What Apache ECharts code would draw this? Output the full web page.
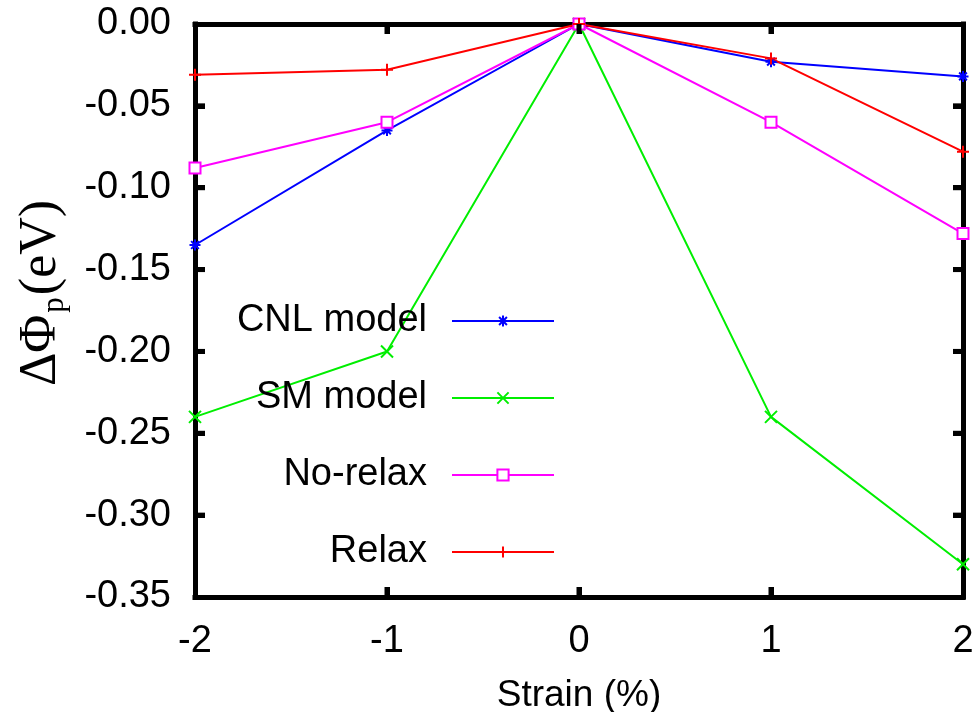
<!DOCTYPE html>
<html>
<head>
<meta charset="utf-8">
<script src="https://cdn.jsdelivr.net/npm/echarts@6/dist/echarts.min.js"></script>
<style>
  html, body { margin: 0; padding: 0; background: #fff; }
  #chart { width: 977px; height: 712px; }
</style>
</head>
<body>
<div id="chart"></div>
<script>
// strain (%) on x
const strain = [-2, -1, 0, 1, 2];
// ΔΦp (eV)
const cnlModel = [-0.135, -0.065, 0.0, -0.023, -0.032];
const smModel = [-0.24, -0.2, 0.0, -0.24, -0.33];
const noRelax = [-0.088, -0.06, 0.0, -0.06, -0.128];
const relax = [-0.031, -0.028, 0.0, -0.021, -0.078];
const seriesNames = ["CNL model", "SM model", "No-relax", "Relax"];

// axis ranges and the inner tick marks of the box
const xRange = [-2, 2];
const yRange = [-0.35, 0];
const xInnerTicks = [-1, 0, 1];
const yInnerTicks = [-0.3, -0.25, -0.2, -0.15, -0.1, -0.05];

const FONT = "'Liberation Sans', Arial, sans-serif";
const SERIF = "'Liberation Serif', 'Times New Roman', serif";

// gnuplot-like point shapes
const SYM_STAR = "path://M5,0L5,10M0,5L10,5M1.5,1.5L8.5,8.5M8.5,1.5L1.5,8.5";
const SYM_X = "path://M0,0L10,10M10,0L0,10";
const SYM_PLUS = "path://M5,0L5,10M0,5L10,5";

function pairs(ys) {
  return strain.map((x, i) => [x, ys[i]]);
}

function makeSeries(name, ys, color, symbol, size, fill) {
  return {
    name: name,
    type: "line",
    data: pairs(ys),
    clip: false,
    symbol: symbol,
    symbolSize: size,
    symbolKeepAspect: true,
    lineStyle: { color: color, width: 2 },
    itemStyle: { color: fill, borderColor: color, borderWidth: 2 },
  };
}

function tick() {
  return { show: true, inside: true, length: 10, lineStyle: { color: "#000", width: 5 } };
}
function edge() {
  return { show: true, onZero: false, lineStyle: { color: "#000", width: 5, cap: "square" } };
}

const chart = echarts.init(document.getElementById("chart"));

chart.setOption({
  animation: false,
  grid: {
    left: 195,
    right: 14,
    top: 24,
    bottom: 115,
    outerBoundsMode: "none",
  },
  legend: {
    orient: "vertical",
    align: "right",
    right: 417,
    top: 297,
    itemWidth: 102,
    itemHeight: 14,
    itemGap: 39,
    data: seriesNames,
    textStyle: {
      color: "#000",
      fontFamily: FONT,
      fontSize: 38,
      lineHeight: 38,
      padding: [0, 20, 0, 0],
    },
  },
  graphic: [
    {
      id: "ytitle",
      type: "text",
      x: 41,
      y: 293,
      rotation: Math.PI / 2,
      style: {
        text: "{a|ΔΦ}{s|p}{a|(eV)}",
        align: "center",
        verticalAlign: "middle",
        rich: {
          a: { fontFamily: SERIF, fontSize: 52, fill: "#000" },
          s: { fontFamily: SERIF, fontSize: 31, fill: "#000", padding: [27, 2, 0, 2] },
        },
      },
    },
  ],
  xAxis: [
    {
      type: "value",
      min: xRange[0],
      max: xRange[1],
      interval: 1,
      name: "Strain (%)",
      nameLocation: "middle",
      nameGap: 80,
      nameTextStyle: { color: "#000", fontFamily: FONT, fontSize: 37 },
      axisLine: edge(),
      axisTick: tick(),
      axisLabel: { margin: 26, color: "#000", fontFamily: FONT, fontSize: 38 },
      splitLine: { show: false },
    },
    {
      type: "value",
      position: "top",
      min: xRange[0],
      max: xRange[1],
      interval: 1,
      axisLine: edge(),
      axisTick: tick(),
      axisLabel: { show: false },
      splitLine: { show: false },
    },
  ],
  yAxis: [
    {
      type: "value",
      min: yRange[0],
      max: yRange[1],
      interval: 0.05,
      axisLine: edge(),
      axisTick: tick(),
      axisLabel: {
        margin: 24,
        color: "#000",
        fontFamily: FONT,
        fontSize: 38,
        formatter: (v) => (Math.abs(v) < 1e-9 ? "0.00" : v.toFixed(2)),
      },
      splitLine: { show: false },
    },
    {
      type: "value",
      position: "right",
      min: yRange[0],
      max: yRange[1],
      interval: 0.05,
      axisLine: edge(),
      axisTick: tick(),
      axisLabel: { show: false },
      splitLine: { show: false },
    },
  ],
  series: [
    makeSeries(seriesNames[0], cnlModel, "#0000ff", SYM_STAR, 11, "none"),
    makeSeries(seriesNames[1], smModel, "#00ee00", SYM_X, 12, "none"),
    makeSeries(seriesNames[2], noRelax, "#ff00ff", "rect", 11, "#fff"),
    makeSeries(seriesNames[3], relax, "#ff0000", SYM_PLUS, 12, "none"),
  ],
});

// inward tick marks on all four sides, placed through the axis scales
const TICK_LEN = 10;
const TICK_W = 5;
const marks = [];
function mark(id, x, y, w, h) {
  marks.push({
    id: id,
    type: "rect",
    z: 100,
    silent: true,
    shape: { x: x, y: y, width: w, height: h },
    style: { fill: "#000" },
  });
}
xInnerTicks.forEach((v, i) => {
  const bottom = chart.convertToPixel({ gridIndex: 0 }, [v, yRange[0]]);
  const top = chart.convertToPixel({ gridIndex: 0 }, [v, yRange[1]]);
  mark("xb" + i, bottom[0] - TICK_W / 2, bottom[1] - TICK_LEN, TICK_W, TICK_LEN);
  mark("xt" + i, top[0] - TICK_W / 2, top[1], TICK_W, TICK_LEN);
});
yInnerTicks.forEach((v, i) => {
  const left = chart.convertToPixel({ gridIndex: 0 }, [xRange[0], v]);
  const right = chart.convertToPixel({ gridIndex: 0 }, [xRange[1], v]);
  mark("yl" + i, left[0], left[1] - TICK_W / 2, TICK_LEN, TICK_W);
  mark("yr" + i, right[0] - TICK_LEN, right[1] - TICK_W / 2, TICK_LEN, TICK_W);
});
chart.setOption({ graphic: marks });
</script>
</body>
</html>
